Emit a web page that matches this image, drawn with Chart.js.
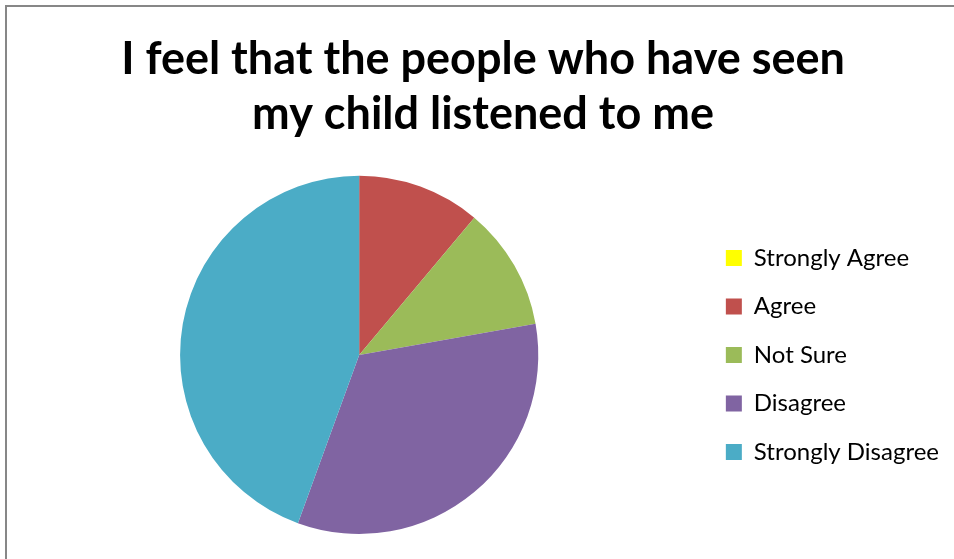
<!DOCTYPE html>
<html>
<head>
<meta charset="utf-8">
<script src="https://cdn.jsdelivr.net/npm/chart.js@4"></script>
<style>
  html, body { margin: 0; padding: 0; background: #fff; overflow: hidden; }
  #frame { position: absolute; left: 5px; top: 5px; width: 970px; height: 570px; border: 2px solid #878787; box-sizing: border-box; }
  #wrap { position: absolute; left: 0; top: 0; width: 954px; height: 559px; }
</style>
</head>
<body>
<div id="frame"></div>
<div id="wrap"><canvas id="pie"></canvas></div>
<script>
let categories = ["Strongly Agree", "Agree", "Not Sure", "Disagree", "Strongly Disagree"]
let responses = [0, 1, 1, 3, 4]
let colours = ["#FFFF00", "#C0504D", "#9BBB59", "#8064A2", "#4BACC6"]
let titleLines = ["I feel that the people who have seen", "my child listened to me"]

Chart.defaults.font.family = "Lato, 'Open Sans', sans-serif"
Chart.defaults.color = "#000"

let ctx = document.querySelector("#pie").getContext("2d")

let chart = new Chart(ctx, {
    type: "pie",
    data: {
        labels: categories,
        datasets: [{
            data: responses,
            backgroundColor: colours,
            borderWidth: 0
        }]
    },
    options: {
        responsive: true,
        maintainAspectRatio: false,
        animation: false,
        layout: {
            padding: { left: 17, right: 5, top: 0, bottom: 25 }
        },
        plugins: {
            title: {
                display: true,
                text: titleLines,
                font: { size: 45, weight: "bold", lineHeight: 1.22 },
                padding: { top: 32, bottom: 34 }
            },
            legend: {
                position: "right",
                fullSize: false,
                labels: {
                    boxWidth: 16,
                    boxHeight: 16,
                    padding: 24.5,
                    font: { size: 24 }
                }
            },
            tooltip: { enabled: false }
        }
    }
})
</script>
</body>
</html>
